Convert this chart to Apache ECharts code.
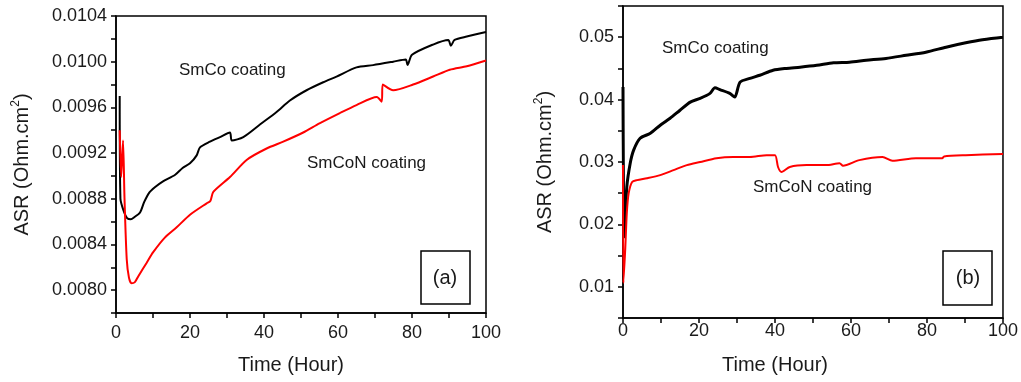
<!DOCTYPE html>
<html>
<head>
<meta charset="utf-8">
<script src="https://cdn.jsdelivr.net/npm/echarts@6/dist/echarts.min.js"></script>
<style>
  html, body { margin: 0; padding: 0; background: #fff; }
  #main { width: 1021px; height: 382px; }
</style>
</head>
<body>
<div id="main"></div>
<script>
// panel (a)
const smcoA_t = [1.0, 1.2, 2, 3, 4, 5, 6.5, 7.6, 8.9, 10.5, 12.6, 16, 18, 20, 21.8, 22.7, 25.4, 28.1, 30.8, 31.3, 34.4, 38.9, 43.4, 47, 51.5, 56, 59.6, 65, 69.5, 74.9, 78.3, 78.8, 80, 85.7, 89.8, 90.5, 91.5, 94.8, 100];
const smcoA_v = [0.0097, 0.0088, 0.0087, 0.00863, 0.00862, 0.00864, 0.00868, 0.00877, 0.00885, 0.0089, 0.00895, 0.00901, 0.00907, 0.00911, 0.00918, 0.00925, 0.0093, 0.00934, 0.00938, 0.00931, 0.00934, 0.00945, 0.00956, 0.00966, 0.00975, 0.00982, 0.00987, 0.00995, 0.00997, 0.01, 0.01002, 0.00997, 0.01006, 0.01015, 0.01019, 0.01014, 0.01019, 0.01022, 0.01026];
const smconA_t = [1.0, 1.4, 1.9, 2.3, 2.9, 3.5, 4.2, 5.1, 6, 8.3, 10, 13.2, 16.4, 20, 24.5, 25.5, 26.3, 30.8, 35.3, 40.7, 45.2, 50.6, 55, 60.5, 65, 70.5, 71.8, 72.1, 74.9, 80.3, 85.7, 90.2, 94.8, 100];
const smconA_v = [0.0094, 0.00899, 0.00931, 0.0088, 0.00827, 0.00811, 0.00806, 0.00807, 0.00812, 0.00824, 0.00833, 0.00846, 0.00855, 0.00866, 0.00876, 0.00878, 0.00886, 0.00899, 0.00914, 0.00924, 0.0093, 0.00938, 0.00946, 0.00955, 0.00962, 0.00969, 0.00965, 0.0098, 0.00975, 0.0098, 0.00987, 0.00993, 0.00996, 0.01001];

// panel (b)
const smcoB_t = [0, 0.3, 1.0, 1.9, 2.8, 4.5, 7.2, 9.8, 12.4, 15, 17.7, 20.3, 22.9, 24.2, 25.5, 28.1, 29.4, 30.8, 33.4, 36, 39.5, 43, 46.6, 51, 55.4, 59.6, 64, 69.2, 74.5, 79.7, 85, 90.2, 94.6, 100];
const smcoB_v = [0.042, 0.018, 0.026, 0.0298, 0.0319, 0.0338, 0.0346, 0.0359, 0.037, 0.0383, 0.0396, 0.0402, 0.041, 0.0419, 0.0416, 0.041, 0.0404, 0.0428, 0.0434, 0.0439, 0.0447, 0.045, 0.0452, 0.0455, 0.0459, 0.046, 0.0463, 0.0466, 0.0471, 0.0476, 0.0484, 0.0491, 0.0496, 0.05];
const smconB_t = [0, 0.1, 0.6, 1.0, 1.5, 2.4, 3.7, 6.3, 9.8, 13.3, 16.8, 20.3, 24.6, 29, 33.4, 37.8, 40, 40.8, 41.7, 43.9, 48.3, 53.5, 57, 57.9, 62.2, 68.3, 70.9, 77.1, 84, 84.5, 90.2, 100];
const smconB_v = [0.0295, 0.0106, 0.0162, 0.0218, 0.025, 0.0268, 0.0271, 0.0274, 0.0279, 0.0287, 0.0295, 0.03, 0.0306, 0.0308, 0.0308, 0.0311, 0.0311, 0.0292, 0.0284, 0.0292, 0.0295, 0.0295, 0.0298, 0.0294, 0.0303, 0.0308, 0.0302, 0.0306, 0.0306, 0.0309, 0.0311, 0.0313];

const FONT = "'Liberation Sans', Arial, sans-serif";
const TXT = "#1a1a1a";

const zip = (t, v) => t.map((x, i) => [x, v[i]]);

const axisLine = { lineStyle: { color: "#000", width: 1.5 } };
const axisTick = { length: 5, lineStyle: { color: "#000", width: 1.5 } };

function xAxis(gridIndex, margin, nameGap, shift) {
  return {
    type: "value", gridIndex, min: 0, max: 100, interval: 10,
    axisLine, axisTick,
    splitLine: { show: false },
    axisLabel: {
      margin, color: TXT, fontSize: 18, fontFamily: FONT,
      formatter: v => (v % 20 === 0 ? String(v) : "")
    },
    name: "Time (Hour)", nameLocation: "middle", nameGap,
    nameTextStyle: { color: TXT, fontSize: 20, fontFamily: FONT, padding: [0, shift, 0, 0] }
  };
}

function yAxis(gridIndex, min, max, interval, fmt, nameGap) {
  return {
    type: "value", gridIndex, min, max, interval,
    axisLine, axisTick,
    splitLine: { show: false },
    axisLabel: { margin: 9, color: TXT, fontSize: 18, fontFamily: FONT, formatter: fmt },
    name: "ASR (Ohm.cm{sup|2})", nameLocation: "middle", nameGap, nameRotate: 90,
    nameTextStyle: {
      color: TXT, fontSize: 20, fontFamily: FONT,
      rich: { sup: { fontSize: 12, verticalAlign: "top", padding: [0, 0, 12, 0], color: TXT, fontFamily: FONT } }
    }
  };
}

function line(xi, data, color, width) {
  return {
    type: "line", xAxisIndex: xi, yAxisIndex: xi, data,
    showSymbol: false, symbol: "none", animation: false, smooth: 0.25,
    lineStyle: { color, width }, itemStyle: { color }
  };
}

function label(x, y, text, size) {
  return { type: "text", x, y, style: { text, fill: TXT, font: size + "px " + FONT, textAlign: "left", textVerticalAlign: "middle" } };
}

const chart = echarts.init(document.getElementById("main"));
chart.setOption({
  animation: false,
  grid: [
    { left: 116, top: 16, width: 370, height: 297, show: true, borderColor: "#000", borderWidth: 1.5 },
    { left: 623, top: 6, width: 381, height: 312, show: true, borderColor: "#000", borderWidth: 1.5 }
  ],
  xAxis: [xAxis(0, 11, 42, 20), xAxis(1, 4, 37, 76)],
  yAxis: [
    yAxis(0, 0.0078, 0.0104, 0.0002, v => (Math.round(v * 1e4) % 4 === 0 ? v.toFixed(4) : ""), 82),
    yAxis(1, 0.005, 0.055, 0.005, v => (Math.round(v * 1e3) % 10 === 0 ? v.toFixed(2) : ""), 66)
  ],
  series: [
    line(0, zip(smcoA_t, smcoA_v), "#000", 2),
    line(0, zip(smconA_t, smconA_v), "#ff0000", 2),
    line(1, zip(smcoB_t, smcoB_v), "#000", 3),
    line(1, zip(smconB_t, smconB_v), "#ff0000", 2)
  ],
  graphic: [
    label(179, 70, "SmCo coating", 17),
    label(307, 163, "SmCoN coating", 17),
    label(662, 48, "SmCo coating", 17),
    label(753, 187, "SmCoN coating", 17),
    { type: "rect", shape: { x: 421, y: 251, width: 49, height: 53 }, style: { fill: "none", stroke: "#000", lineWidth: 1.5 } },
    { type: "text", x: 445, y: 278, style: { text: "(a)", fill: TXT, font: "20px " + FONT, textAlign: "center", textVerticalAlign: "middle" } },
    { type: "rect", shape: { x: 943, y: 251, width: 49, height: 54 }, style: { fill: "none", stroke: "#000", lineWidth: 1.5 } },
    { type: "text", x: 968, y: 278, style: { text: "(b)", fill: TXT, font: "20px " + FONT, textAlign: "center", textVerticalAlign: "middle" } }
  ]
});
</script>
</body>
</html>
